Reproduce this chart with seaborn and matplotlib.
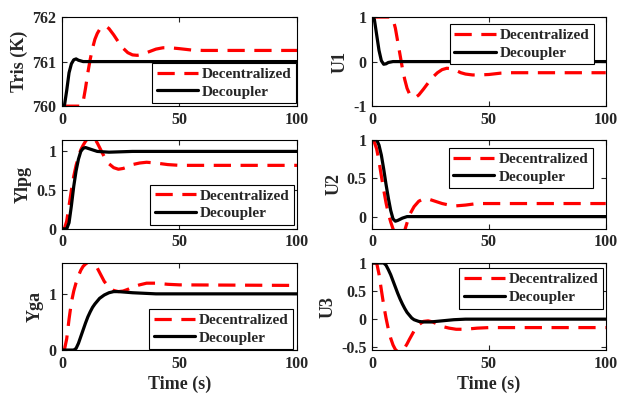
import matplotlib
matplotlib.use("Agg")
import matplotlib.pyplot as plt
import seaborn as sns

# ---- data ----
# Tris (K)
tris_dec_t = [0, 8, 9, 10, 11, 12, 13, 14, 15, 16, 17, 18, 19, 20, 22, 24, 26, 28, 30, 32, 34, 36, 38, 40, 43, 46, 50, 55, 60, 70, 80, 100]
tris_dec_y = [760, 760, 760.1, 760.4, 760.75, 761.05, 761.3, 761.5, 761.63, 761.72, 761.77, 761.79, 761.78, 761.74, 761.6,
              761.44, 761.3, 761.2, 761.15, 761.14, 761.16, 761.2, 761.24, 761.28, 761.31, 761.31, 761.29, 761.26, 761.25,
              761.25, 761.25, 761.25]
tris_dcp_t = [0, 1, 2, 3, 4, 5, 6, 7, 9, 100]
tris_dcp_y = [760, 760, 760.35, 760.75, 760.95, 761.04, 761.06, 761.03, 761.0, 761.0]

# U1
u1_dec_t = [0, 8, 9, 10, 11, 12, 13, 14, 15, 16, 17, 18, 19, 20, 22, 24, 26, 28, 30, 32, 34, 36, 38, 40, 43, 46, 50, 55, 60, 100]
u1_dec_y = [1, 1, 0.95, 0.75, 0.45, 0.15, -0.15, -0.4, -0.6, -0.72, -0.78, -0.8, -0.79, -0.75, -0.62, -0.48, -0.35,
            -0.25, -0.18, -0.15, -0.16, -0.2, -0.25, -0.28, -0.3, -0.3, -0.29, -0.26, -0.25, -0.25]
u1_dcp_t = [0, 1, 2, 3, 4, 5, 6, 7, 9, 100]
u1_dcp_y = [1, 0.95, 0.6, 0.25, 0.02, -0.06, -0.05, -0.02, 0, 0]

# Ylpg
ylpg_dec_t = [0, 1, 2, 3, 4, 5, 6, 7, 8, 9, 10, 11, 12, 13, 14, 15, 16, 18, 20, 22, 24, 26, 28, 30, 33, 36, 40, 45, 50, 100]
ylpg_dec_y = [0, 0, 0.1, 0.3, 0.5, 0.68, 0.82, 0.93, 1.02, 1.08, 1.13, 1.17, 1.19, 1.19, 1.16, 1.11, 1.05, 0.93, 0.84,
              0.79, 0.77, 0.78, 0.8, 0.83, 0.85, 0.86, 0.85, 0.83, 0.82, 0.82]
ylpg_dcp_t = [0, 2, 3, 4, 5, 6, 7, 8, 9, 10, 11, 13, 15, 20, 30, 100]
ylpg_dcp_y = [0, 0, 0.08, 0.3, 0.55, 0.75, 0.9, 1.0, 1.04, 1.05, 1.04, 1.02, 1.0, 0.99, 1.0, 1.0]

# U2
u2_dec_t = [0, 1, 2, 3, 4, 5, 6, 7, 8, 9, 10, 11, 12, 13, 14, 15, 16, 18, 20, 22, 24, 26, 28, 30, 33, 36, 40, 45, 50, 100]
u2_dec_y = [1, 0.97, 0.88, 0.72, 0.53, 0.35, 0.18, 0.04, -0.07, -0.16, -0.23, -0.28, -0.3, -0.27, -0.18, -0.08, 0.02,
            0.13, 0.2, 0.23, 0.23, 0.21, 0.19, 0.17, 0.15, 0.14, 0.15, 0.17, 0.17, 0.17]
u2_dcp_t = [0, 2, 3, 4, 5, 6, 7, 8, 9, 10, 11, 13, 15, 100]
u2_dcp_y = [1, 1, 0.93, 0.8, 0.62, 0.42, 0.24, 0.08, -0.03, -0.06, -0.05, -0.02, 0, 0]

# Yga
yga_dec_t = [0, 1, 2, 3, 4, 5, 6, 7, 8, 9, 10, 11, 12, 13, 14, 15, 16, 18, 20, 22, 24, 26, 28, 30, 33, 36, 40, 45, 50, 100]
yga_dec_y = [0, 0, 0.2, 0.55, 0.85, 1.05, 1.2, 1.32, 1.42, 1.49, 1.53, 1.56, 1.57, 1.56, 1.52, 1.46, 1.38, 1.22, 1.12,
             1.06, 1.04, 1.05, 1.08, 1.12, 1.16, 1.19, 1.19, 1.17, 1.16, 1.15]
yga_dcp_t = [0, 5, 6, 7, 8, 9, 10, 11, 12, 13, 14, 15, 16, 18, 20, 22, 24, 27, 30, 35, 40, 100]
yga_dcp_y = [0, 0, 0.03, 0.12, 0.24, 0.36, 0.48, 0.59, 0.68, 0.76, 0.82, 0.87, 0.92, 0.98, 1.02, 1.04, 1.04, 1.03,
             1.02, 1.01, 1.0, 1.0]

# U3
u3_dec_t = [0, 2, 3, 4, 5, 6, 7, 8, 9, 10, 11, 12, 13, 14, 15, 16, 18, 20, 22, 24, 26, 28, 30, 33, 36, 40, 45, 50, 100]
u3_dec_y = [1, 1, 0.8, 0.52, 0.25, 0.02, -0.18, -0.34, -0.46, -0.54, -0.58, -0.59, -0.57, -0.51, -0.44, -0.36, -0.21,
            -0.1, -0.04, -0.03, -0.05, -0.09, -0.13, -0.16, -0.18, -0.18, -0.16, -0.15, -0.15]
u3_dcp_t = [0, 5, 6, 7, 8, 9, 10, 11, 12, 13, 14, 15, 16, 17, 18, 20, 22, 25, 30, 35, 40, 100]
u3_dcp_y = [1, 1, 0.96, 0.88, 0.79, 0.68, 0.57, 0.46, 0.36, 0.27, 0.19, 0.12, 0.07, 0.02, -0.01, -0.04, -0.05, -0.05,
            -0.03, -0.01, 0, 0]

sns.set_style("ticks")
plt.rcParams['font.family'] = ['Liberation Serif', 'DejaVu Serif']
plt.rcParams['font.weight'] = 'bold'
plt.rcParams['axes.labelweight'] = 'bold'

fig = plt.figure(figsize=(6.2, 3.96), dpi=100)

# panel: (ylabel, dec data, decoupler data, ylim, yticks, ytick labels, legend loc, legend anchor, axes rect)
panels = [
    ('Tris (K)', tris_dec_t, tris_dec_y, tris_dcp_t, tris_dcp_y, (760, 762), [760, 761, 762], ['760', '761', '762'],
     'lower right', (0.996, 0.034), [0.100, 0.732, 0.379, 0.225]),
    ('U1', u1_dec_t, u1_dec_y, u1_dcp_t, u1_dcp_y, (-1, 1), [-1, 0, 1], ['-1', '0', '1'],
     'upper right', (0.949, 0.921), [0.600, 0.732, 0.377, 0.225]),
    ('Ylpg', ylpg_dec_t, ylpg_dec_y, ylpg_dcp_t, ylpg_dcp_y, (0, 1.15), [0, 0.5, 1], ['0', '0.5', '1'],
     'lower right', (0.987, 0.045), [0.100, 0.422, 0.379, 0.225]),
    ('U2', u2_dec_t, u2_dec_y, u2_dcp_t, u2_dcp_y, (-0.16, 1.0), [0, 0.5, 1], ['0', '0.5', '1'],
     'upper right', (0.944, 0.91), [0.600, 0.422, 0.377, 0.225]),
    ('Yga', yga_dec_t, yga_dec_y, yga_dcp_t, yga_dcp_y, (0, 1.55), [0, 1], ['0', '1'],
     'lower right', (0.983, 0.011), [0.100, 0.116, 0.379, 0.220]),
    ('U3', u3_dec_t, u3_dec_y, u3_dcp_t, u3_dcp_y, (-0.55, 1.0), [-0.5, 0, 0.5, 1], ['-0.5', '0', '0.5', '1'],
     'upper right', (0.99, 0.94), [0.600, 0.116, 0.377, 0.220]),
]

for i, (ylab, dt, dy, ct, cy, ylim, yt, ytl, lloc, lanchor, rect) in enumerate(panels):
    ax = fig.add_axes(rect)
    sns.lineplot(x=dt, y=dy, ax=ax, color='red', linewidth=2.3, linestyle=(0, (5.4, 3.0)),
                 label='Decentralized', estimator=None, sort=False)
    sns.lineplot(x=ct, y=cy, ax=ax, color='black', linewidth=2.3,
                 label='Decoupler', estimator=None, sort=False)
    ax.set_xlim(0, 100)
    ax.set_ylim(*ylim)
    ax.set_xticks([0, 50, 100])
    ax.set_yticks(yt)
    ax.set_yticklabels(ytl)
    ax.tick_params(direction='in', top=True, right=True, length=3.5, width=0.8,
                   labelsize=11.5, pad=4)
    for lab in ax.get_xticklabels() + ax.get_yticklabels():
        lab.set_fontweight('bold')
    for sp in ax.spines.values():
        sp.set_visible(True)
        sp.set_linewidth(0.8)
        sp.set_color('black')
    ax.set_ylabel(ylab, fontsize=13, fontweight='bold', labelpad=3)
    if i >= 4:
        ax.set_xlabel('Time (s)', fontsize=13, fontweight='bold', labelpad=3)
    else:
        ax.set_xlabel('')
    leg = ax.legend(loc=lloc, bbox_to_anchor=lanchor, borderaxespad=0, fancybox=False,
                    framealpha=1, edgecolor='black', handlelength=2.7,
                    handletextpad=0.25, borderpad=0.3, labelspacing=0.25,
                    prop={'weight': 'bold', 'size': 11})
    leg.get_frame().set_linewidth(0.8)

fig.savefig('out.png', dpi=100)
